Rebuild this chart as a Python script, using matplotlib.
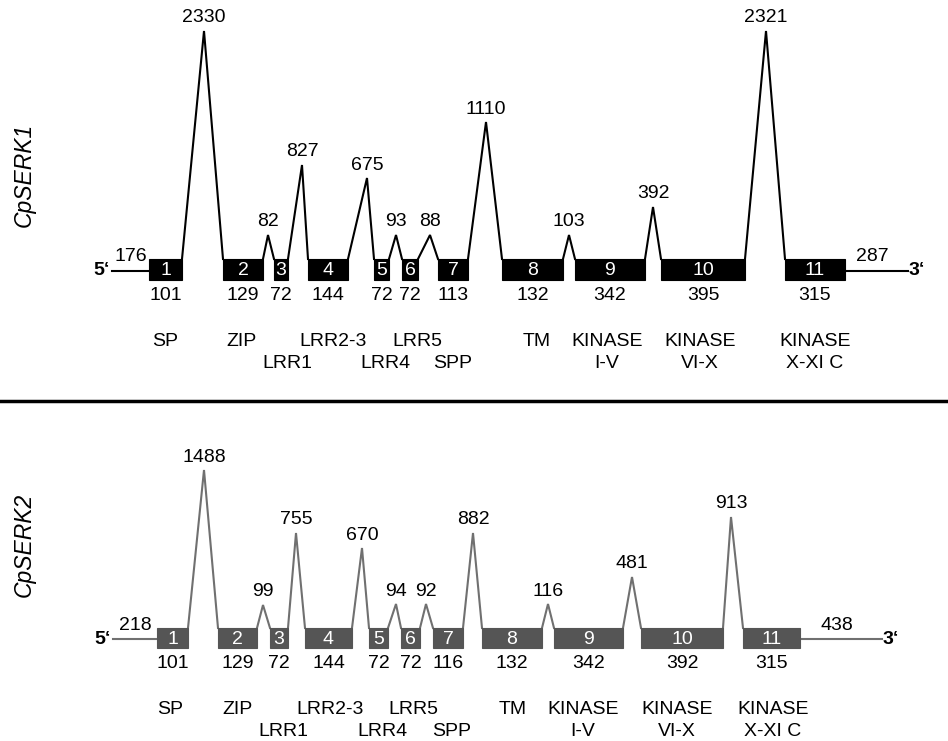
import matplotlib.pyplot as plt
from matplotlib.patches import Rectangle

plt.rcParams['font.family'] = ['Liberation Sans', 'DejaVu Sans']

# data
exon_ids = ['1', '2', '3', '4', '5', '6', '7', '8', '9', '10', '11']
domains_row1 = ['SP', 'ZIP', 'LRR2-3', 'LRR5', 'TM', 'KINASE', 'KINASE', 'KINASE']
domains_row2 = ['LRR1', 'LRR4', 'SPP', 'I-V', 'VI-X', 'X-XI C']

serk1_exon_len = [101, 129, 72, 144, 72, 72, 113, 132, 342, 395, 315]
serk1_intron_len = [2330, 82, 827, 675, 93, 88, 1110, 103, 392, 2321]
serk1_utr = [176, 287]

serk2_exon_len = [101, 129, 72, 144, 72, 72, 116, 132, 342, 392, 315]
serk2_intron_len = [1488, 99, 755, 670, 94, 92, 882, 116, 481, 913]
serk2_utr = [218, 438]

# layout (pixel coordinates of the original drawing)
serk1_exon_x = [(149, 182), (223, 263), (274, 288), (308, 348), (374, 389), (402, 418),
                (438, 468), (502, 563), (575, 645), (661, 745), (785, 845)]
serk1_apex_x = [204, 268, 302, 367, 396, 430, 486, 569, 653, 766]
serk1_apex_y = [31, 235, 165, 178, 235, 235, 122, 235, 207, 31]
serk1_dom1_x = [165, 242, 333, 417, 537, 607, 700, 815]
serk1_dom2_x = [287, 385, 453, 607, 700, 815]

serk2_exon_x = [(157, 188), (218, 257), (270, 288), (305, 352), (369, 388), (401, 420),
                (433, 463), (482, 542), (554, 623), (641, 723), (743, 800)]
serk2_apex_x = [204, 263, 296, 362, 396, 426, 473, 548, 632, 731]
serk2_apex_y = [470, 605, 533, 548, 604, 604, 533, 604, 577, 517]
serk2_dom1_x = [170, 238, 330, 413, 513, 583, 677, 773]
serk2_dom2_x = [283, 382, 452, 583, 677, 773]

FS = 14


def draw_gene(ax, name, name_y, exon_x, exon_len, intron_len, utr, apex_x, apex_y,
              box_top, box_h, utr_x, dom1_x, dom2_x, dom_y, box_col, line_col):
    mid = box_top + box_h / 2 + 1
    lw = 1.5
    # UTR lines
    ax.plot([utr_x[0], exon_x[0][0]], [mid, mid], color=line_col, lw=lw)
    ax.plot([exon_x[-1][1], utr_x[1]], [mid, mid], color=line_col, lw=lw)
    ax.text(utr_x[0] - 2, mid, '5‘', ha='right', va='center', fontsize=FS, fontweight='bold')
    ax.text(utr_x[1] + 1, mid, '3‘', ha='left', va='center', fontsize=FS, fontweight='bold')
    ax.text((utr_x[0] + exon_x[0][0]) / 2, mid - 14, str(utr[0]), ha='center', va='center', fontsize=FS)
    ax.text((utr_x[1] + exon_x[-1][1]) / 2 - 4, mid - 14, str(utr[1]), ha='center', va='center', fontsize=FS)
    # introns
    for i, L in enumerate(intron_len):
        x0 = exon_x[i][1]
        x1 = exon_x[i + 1][0]
        ax.plot([x0, apex_x[i], x1], [box_top, apex_y[i], box_top], color=line_col, lw=lw,
                solid_joinstyle='miter')
        ax.text(apex_x[i], apex_y[i] - 13, str(L), ha='center', va='center', fontsize=FS)
    # exons
    for i, (xa, xb) in enumerate(exon_x):
        ax.add_patch(Rectangle((xa, box_top), xb - xa, box_h, facecolor=box_col,
                               edgecolor=box_col, lw=0.8, zorder=3))
        ax.text((xa + xb) / 2, box_top + box_h / 2 + 1, exon_ids[i], ha='center', va='center',
                color='white', fontsize=FS, zorder=4)
        ax.text((xa + xb) / 2, box_top + box_h + 15, str(exon_len[i]), ha='center', va='center',
                fontsize=FS)
    # domains
    for lab, x in zip(domains_row1, dom1_x):
        ax.text(x, dom_y, lab, ha='center', va='center', fontsize=FS)
    for lab, x in zip(domains_row2, dom2_x):
        ax.text(x, dom_y + 22, lab, ha='center', va='center', fontsize=FS)
    ax.text(24, name_y, name, rotation=90, ha='center', va='center', fontsize=16.5, style='italic')


fig = plt.figure(figsize=(9.48, 7.41), dpi=100)
ax = fig.add_axes([0, 0, 1, 1])
ax.set_xlim(0, 948)
ax.set_ylim(741, 0)
ax.axis('off')

draw_gene(ax, 'CpSERK1', 175, serk1_exon_x, serk1_exon_len, serk1_intron_len, serk1_utr,
          serk1_apex_x, serk1_apex_y, 259, 21, (112, 908), serk1_dom1_x, serk1_dom2_x, 342,
          'black', 'black')
draw_gene(ax, 'CpSERK2', 545, serk2_exon_x, serk2_exon_len, serk2_intron_len, serk2_utr,
          serk2_apex_x, serk2_apex_y, 628, 20, (113, 882), serk2_dom1_x, serk2_dom2_x, 710,
          '#555555', '#707070')

ax.plot([0, 948], [401, 401], color='black', lw=2.5)

fig.savefig('out.png', dpi=100)
